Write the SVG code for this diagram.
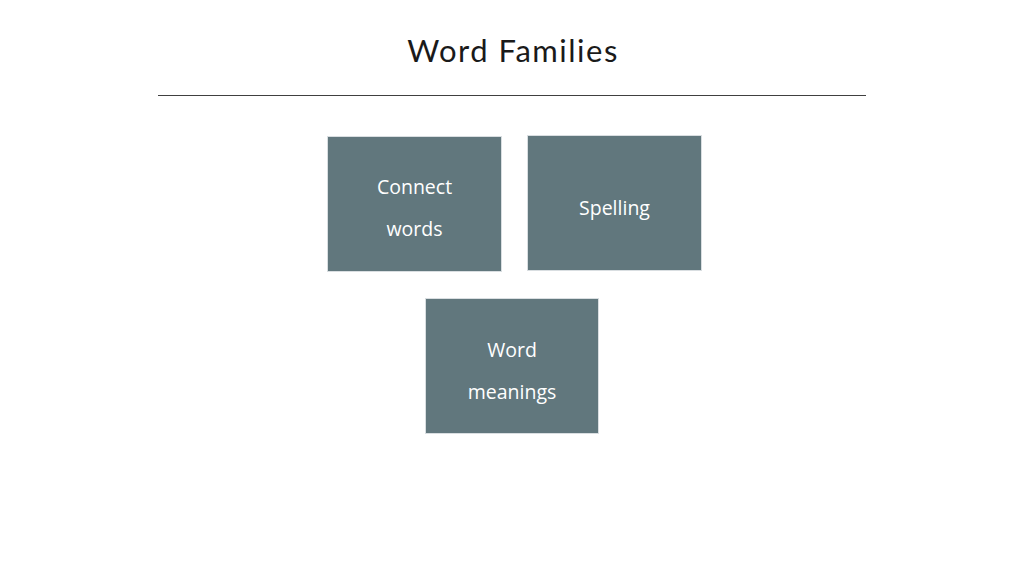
<svg xmlns="http://www.w3.org/2000/svg" width="1024" height="576" viewBox="0 0 1024 576">
<style>
.box{fill:#61777d;stroke:#d9dee1;stroke-width:1}
.lbl{font-family:"Open Sans","Noto Sans",sans-serif;font-size:19.5px;fill:#ffffff;text-anchor:middle}
.title{font-family:"Lato","DejaVu Sans",sans-serif;font-size:31px;letter-spacing:1.5px;fill:#1a1a1a;text-anchor:middle}
</style>
<rect width="1024" height="576" fill="#ffffff"/>
<text class="title" x="513" y="62">Word Families</text>
<line x1="158" y1="95.5" x2="866" y2="95.5" stroke="#404040" stroke-width="1"/>
<g id="connectors"></g>
<g id="node-connect">
<rect class="box" x="327.5" y="136.5" width="174" height="135"/>
<text class="lbl" x="414.5" y="194">Connect</text>
<text class="lbl" x="414.5" y="236">words</text>
</g>
<g id="node-spelling">
<rect class="box" x="527.5" y="135.5" width="174" height="135"/>
<text class="lbl" x="614.5" y="215">Spelling</text>
</g>
<g id="node-meanings">
<rect class="box" x="425.5" y="298.5" width="173" height="135"/>
<text class="lbl" x="512" y="357">Word</text>
<text class="lbl" x="512" y="399">meanings</text>
</g>
</svg>
